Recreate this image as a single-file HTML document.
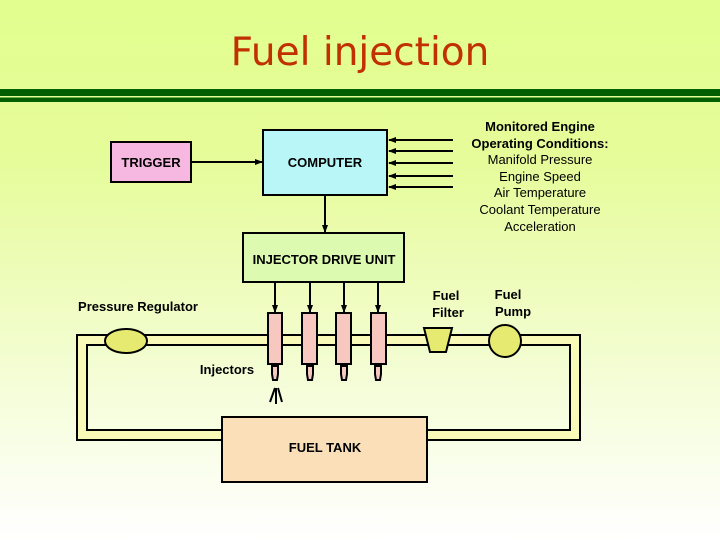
<!DOCTYPE html>
<html><head><meta charset="utf-8"><style>
body{margin:0;width:720px;height:540px;overflow:hidden;background:linear-gradient(#e2fe8e 0%,#e6fc9a 30%,#f4fdd6 70%,#ffffff 100%);font-family:"Liberation Sans",sans-serif;}
</style></head><body>
<svg width="720" height="540" xmlns="http://www.w3.org/2000/svg" style="position:absolute;left:0;top:0">
<defs><marker id="a" markerWidth="8" markerHeight="8" refX="7" refY="4" orient="auto" markerUnits="userSpaceOnUse"><path d="M0,1 L8,4 L0,7z" fill="#000"/></marker></defs>
<text x="360" y="65" text-anchor="middle" font-family="DejaVu Sans" font-size="39" fill="#c03000">Fuel injection</text>
<rect x="0" y="89" width="720" height="7" fill="#006000"/>
<rect x="0" y="97.5" width="720" height="4.5" fill="#006000"/>
<g stroke="#000" stroke-width="2">
<rect x="111" y="142" width="80" height="40" fill="#f6b8e0"/>
<rect x="263" y="130" width="124" height="65" fill="#b8f6f8"/>
<rect x="243" y="233" width="161" height="49" fill="#dcfbb0"/>
<line x1="191" y1="162" x2="262" y2="162" marker-end="url(#a)"/>
<line x1="453" y1="140" x2="389" y2="140" marker-end="url(#a)"/>
<line x1="453" y1="151" x2="389" y2="151" marker-end="url(#a)"/>
<line x1="453" y1="163" x2="389" y2="163" marker-end="url(#a)"/>
<line x1="453" y1="176" x2="389" y2="176" marker-end="url(#a)"/>
<line x1="453" y1="187" x2="389" y2="187" marker-end="url(#a)"/>
<line x1="325" y1="195" x2="325" y2="232" marker-end="url(#a)"/>
<line x1="275" y1="282" x2="275" y2="312" marker-end="url(#a)"/>
<line x1="310" y1="282" x2="310" y2="312" marker-end="url(#a)"/>
<line x1="344" y1="282" x2="344" y2="312" marker-end="url(#a)"/>
<line x1="378" y1="282" x2="378" y2="312" marker-end="url(#a)"/>
<path d="M77,335 H580 V440 H77 Z M87,345 H570 V430 H87 Z" fill="#fafab8" fill-rule="evenodd"/>
<rect x="222" y="417" width="205" height="65" fill="#fbdfb8"/>
<ellipse cx="126" cy="341" rx="21" ry="12" fill="#e6ea70"/>
<path d="M424,328 H452 L446,352 H430 Z" fill="#e6ea70"/>
<circle cx="505" cy="341" r="16" fill="#e6ea70"/>
<g fill="#f6c8c0">
<rect x="268" y="313" width="14" height="51"/><rect x="302" y="313" width="15" height="51"/><rect x="336" y="313" width="15" height="51"/><rect x="371" y="313" width="15" height="51"/>
<path d="M272,366 h6 v8 l-1,6 h-4 l-1,-6z"/><path d="M307,366 h6 v8 l-1,6 h-4 l-1,-6z"/><path d="M341,366 h6 v8 l-1,6 h-4 l-1,-6z"/><path d="M375,366 h6 v8 l-1,6 h-4 l-1,-6z"/>
</g>
<line x1="270" y1="402" x2="275" y2="388"/><line x1="276" y1="404" x2="276" y2="388"/><line x1="282" y1="402" x2="278" y2="388"/>
</g>
<g font-size="13" text-anchor="middle" fill="#000" font-weight="bold">
<text x="151" y="167">TRIGGER</text>
<text x="325" y="167">COMPUTER</text>
<text x="324" y="264">INJECTOR DRIVE UNIT</text>
<text x="325" y="452">FUEL TANK</text>
<text x="138" y="311">Pressure Regulator</text>
<text x="227" y="374">Injectors</text>
<text x="446" y="300">Fuel</text><text x="448" y="317">Filter</text>
<text x="508" y="299">Fuel</text><text x="513" y="316">Pump</text>
<text x="540" y="131">Monitored Engine</text>
<text x="540" y="148">Operating Conditions:</text>
</g>
<g font-size="13" text-anchor="middle" fill="#000">
<text x="540" y="164">Manifold Pressure</text>
<text x="540" y="181">Engine Speed</text>
<text x="540" y="197">Air Temperature</text>
<text x="540" y="214">Coolant Temperature</text>
<text x="540" y="231">Acceleration</text>
</g>
</svg>
</body></html>
